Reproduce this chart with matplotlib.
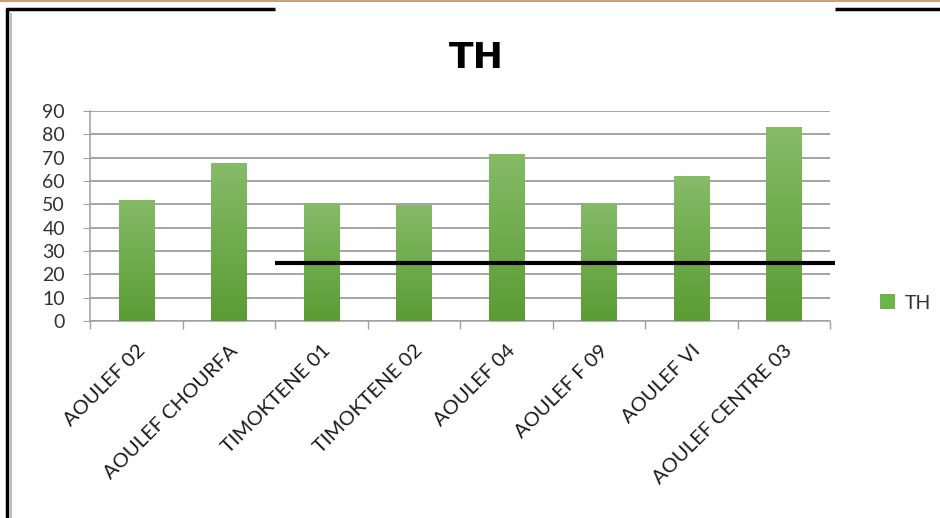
import numpy as np
import matplotlib
matplotlib.use('Agg')
from matplotlib import pyplot as plt
from matplotlib.lines import Line2D
from matplotlib.patches import Rectangle

stations = ['AOULEF 02', 'AOULEF CHOURFA', 'TIMOKTENE 01', 'TIMOKTENE 02',
            'AOULEF 04', 'AOULEF F 09', 'AOULEF VI', 'AOULEF CENTRE 03']
th_values = [52, 67.7, 50.5, 49.8, 71.7, 50.6, 62.1, 83]
norm_value = 25
norm_start = 1.5    # category position where the black line starts
norm_end = 7.55

TOP_GREEN = '#86bb68'
BOTTOM_GREEN = '#5a9c33'
FONT = 'Lato'


def gradient_bars(ax, x, heights, width):
    grad = np.linspace(0, 1, 256).reshape(-1, 1)
    cmap = matplotlib.colors.LinearSegmentedColormap.from_list(
        'th', [BOTTOM_GREEN, TOP_GREEN])
    bars = ax.bar(x, heights, width=width, color='none', zorder=3)
    for b in bars:
        x0, y0 = b.get_x(), b.get_y()
        w, h = b.get_width(), b.get_height()
        im = ax.imshow(grad, extent=[x0, x0 + w, y0, y0 + h], origin='lower',
                       cmap=cmap, aspect='auto', zorder=3)
        im.set_clip_path(b)
    return bars


def main():
    fig = plt.figure(figsize=(9.4, 5.18), dpi=100)
    ax = fig.add_axes([90 / 940, 1 - 321 / 518, 740 / 940, 210 / 518])

    x = np.arange(len(stations))
    gradient_bars(ax, x, th_values, 0.38)

    ax.set_xlim(-0.5, len(stations) - 0.5)
    ax.set_ylim(0, 90)
    ax.set_yticks(np.arange(0, 91, 10))
    ax.yaxis.grid(True, color='#8c8c8c', linewidth=1.1, zorder=1)
    ax.set_axisbelow(True)

    ax.set_xticks(x)
    ax.set_xticklabels(stations, rotation=45, ha='right', rotation_mode='anchor',
                       fontsize=14.5, color='#1a1a1a', fontfamily=FONT)
    ax.tick_params(axis='x', length=0, pad=15)
    ax.set_xticks(np.arange(-0.5, len(stations)), minor=True)
    ax.tick_params(axis='x', which='minor', length=6, color='#a0a0a0', width=1)
    ax.tick_params(axis='y', length=5, color='#a0a0a0', labelsize=14,
                   labelcolor='#333333', pad=13)
    for lab in ax.get_yticklabels():
        lab.set_fontfamily(FONT)

    for side in ['top', 'right']:
        ax.spines[side].set_visible(False)
    for side in ['left', 'bottom']:
        ax.spines[side].set_color('#a0a0a0')
        ax.spines[side].set_linewidth(1.1)

    # black norm line, runs past the plot area
    ax.plot([norm_start, norm_end], [norm_value, norm_value], color='black',
            linewidth=3, clip_on=False, zorder=5, solid_capstyle='butt')

    fig.text(476 / 940, 1 - 58 / 518, 'TH', ha='center', va='center',
             fontsize=26, fontweight='bold', fontfamily='Liberation Sans Narrow')

    # legend
    handle = Rectangle((0, 0), 1, 1, facecolor='#6db548', edgecolor='none')
    fig.legend([handle], ['TH'], loc='center left',
               bbox_to_anchor=(862 / 940, 1 - 303 / 518), frameon=False,
               prop={'family': FONT, 'size': 14},
               handlelength=0.8, handleheight=0.8, handletextpad=0.5,
               labelcolor='#333333')

    # decoration around the chart
    W, H = 940, 518
    fig.add_artist(Line2D([0, 1], [1 - 0.5 / H, 1 - 0.5 / H], color='#c8a080',
                          linewidth=1.5))
    fig.add_artist(Line2D([6 / W, 275 / W], [1 - 8.5 / H, 1 - 8.5 / H],
                          color='black', linewidth=2.5, solid_capstyle='butt'))
    fig.add_artist(Line2D([835 / W, 1], [1 - 8.5 / H, 1 - 8.5 / H],
                          color='black', linewidth=2.5, solid_capstyle='butt'))
    fig.add_artist(Line2D([7 / W, 7 / W], [1 - 7.5 / H, 0], color='black',
                          linewidth=2.5, solid_capstyle='butt'))
    fig.add_artist(Line2D([11 / W, 11 / W], [1 - 13 / H, 0], color='#b0b0b0',
                          linewidth=1.2, solid_capstyle='butt'))

    fig.savefig('out.png', dpi=100)


if __name__ == '__main__':
    main()
